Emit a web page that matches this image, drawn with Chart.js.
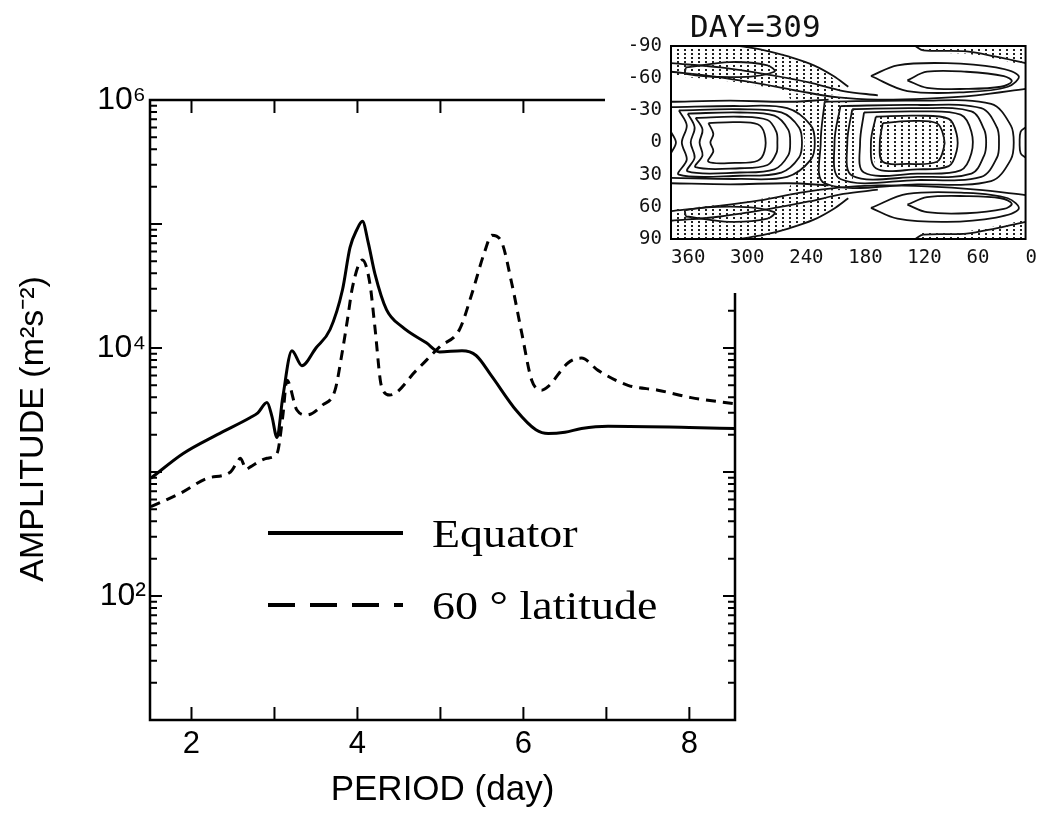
<!DOCTYPE html>
<html>
<head>
<meta charset="utf-8">
<script src="https://cdn.jsdelivr.net/npm/chart.js@4.4.0/dist/chart.umd.min.js"></script>
<style>
  body { margin: 0; background: #fff; }
  #wrap { position: relative; width: 1045px; height: 837px; }
  #main { position: absolute; left: 0; top: 0; }
  #inset { position: absolute; left: 605px; top: 0; background: #fff; }
</style>
</head>
<body>
<div id="wrap">
  <canvas id="main" width="1045" height="837"></canvas>
  <canvas id="inset" width="440" height="293"></canvas>
</div>
<script>
// main spectrum (period in days, amplitude in m2 s-2)
const equatorPeriod = [1.51, 1.90, 2.31, 2.71, 2.80, 2.91, 2.97, 3.03, 3.10, 3.21, 3.33, 3.50, 3.67, 3.82, 3.91, 3.99, 4.06, 4.13, 4.21, 4.35, 4.54, 4.83, 4.99, 5.26, 5.43, 5.62, 5.91, 6.15, 6.30, 6.50, 6.70, 7.02, 8.00, 8.55];
const equatorAmp = [890, 1410, 2000, 2750, 3000, 3630, 2800, 1900, 4000, 9500, 7200, 10000, 14100, 29500, 64500, 89000, 105000, 70800, 39800, 20400, 14800, 11000, 9300, 9500, 8700, 5900, 3160, 2190, 2040, 2090, 2240, 2340, 2290, 2240];

const latPeriod = [1.51, 1.87, 2.19, 2.47, 2.55, 2.59, 2.66, 2.71, 2.91, 3.03, 3.10, 3.15, 3.27, 3.39, 3.58, 3.73, 3.82, 3.88, 3.94, 4.06, 4.15, 4.21, 4.29, 4.39, 4.71, 4.99, 5.23, 5.38, 5.53, 5.62, 5.74, 5.86, 5.98, 6.10, 6.22, 6.30, 6.54, 6.70, 6.90, 7.26, 7.62, 8.02, 8.55];
const latAmp = [525, 676, 890, 1000, 1200, 1290, 1050, 1100, 1290, 1410, 2800, 5500, 3160, 2880, 3470, 4570, 9550, 17000, 30900, 51300, 33100, 14800, 4900, 4170, 6600, 10200, 14100, 27500, 58900, 81300, 70800, 33100, 13200, 5500, 4570, 4900, 7600, 8300, 6600, 5000, 4570, 3980, 3550];

const seriesNames = ['Equator', '60 ° latitude'];

// axis ticks
const xTickValues = [2, 3, 4, 5, 6, 7, 8];
const xLabelValues = [2, 4, 6, 8];
const yDecades = [10, 100, 1000, 10000, 100000, 1000000];
const yLabelValues = [100, 10000, 1000000];
const yLabelText = ['10²', '10⁴', '10⁶'];

// inset (DAY=309 map): longitude / latitude ticks
const lonTicks = [360, 300, 240, 180, 120, 60, 0];
const latTicks = [-90, -60, -30, 0, 30, 60, 90];

// contour lines of the inset, [lon, lat] pairs
const contourLines = [
  // left cell
  [[322,-18],[295,-19],[272,-17],[265,-8],[265,8],[272,17],[295,19],[322,18],[317,8],[320,0],[317,-8],[322,-18]],
  [[335,-23],[290,-24],[262,-21],[253,-10],[252,0],[253,10],[262,21],[290,24],[335,23],[328,12],[331,0],[328,-12],[335,-23]],
  [[343,-27],[290,-28],[255,-25],[241,-12],[239,0],[241,12],[255,25],[290,28],[343,27],[336,14],[340,0],[336,-14],[343,-27]],
  [[352,-30],[290,-31],[248,-28],[230,-14],[227,0],[230,14],[248,28],[290,31],[352,30],[344,16],[349,0],[344,-16],[352,-30]],
  [[360,-33],[290,-34],[242,-32],[218,-16],[214,0],[218,16],[242,32],[290,34],[360,33]],
  [[360,-10],[355,0],[360,10]],
  [[360,-38],[300,-39],[240,-38],[200,-40]],
  [[360,38],[300,39],[240,38],[200,40]],
  // right cell
  [[145,-18],[120,-20],[90,-18],[83,-5],[83,5],[90,18],[120,20],[145,18],[148,0],[145,-18]],
  [[152,-24],[110,-25],[78,-22],[70,-8],[70,8],[78,22],[110,25],[152,24],[157,0],[152,-24]],
  [[164,-28],[110,-29],[66,-26],[55,-10],[55,10],[66,26],[110,29],[164,28],[168,0],[164,-28]],
  [[176,-31],[110,-32],[55,-29],[42,-12],[40,0],[42,12],[55,29],[110,32],[176,31],[181,0],[176,-31]],
  [[188,-34],[110,-35],[45,-32],[29,-14],[27,0],[29,14],[45,32],[110,35],[188,34],[194,0],[188,-34]],
  [[204,-38],[110,-39],[35,-36],[15,-16],[12,0],[15,16],[35,36],[110,39],[204,38],[208,0],[204,-38]],
  [[0,-14],[5,-10],[6,0],[5,10],[0,14]],
  // high latitudes, north (top)
  [[360,-66],[320,-62],[270,-55],[230,-48],[190,-42],[150,-40],[100,-41],[50,-44],[0,-50]],
  [[360,-74],[310,-70],[260,-63],[220,-56],[185,-48],[150,-44]],
  [[345,-70],[300,-75],[262,-72],[255,-66],[290,-61],[345,-64],[345,-70]],
  [[290,-90],[265,-86],[240,-80],[215,-72],[195,-62],[180,-52]],
  [[112,-90],[104,-86],[60,-85],[30,-80],[0,-74]],
  [[120,-58],[100,-66],[60,-66],[22,-62],[14,-57],[25,-52],[60,-50],[100,-51],[120,-58]],
  [[157,-62],[130,-72],[80,-74],[30,-70],[7,-62],[18,-52],[60,-47],[120,-48],[157,-62]],
  // high latitudes, south (bottom)
  [[360,64],[320,60],[270,54],[230,47],[190,42],[150,40],[100,41],[50,44],[0,49]],
  [[360,73],[310,69],[260,62],[220,55],[185,48],[150,44]],
  [[345,69],[300,74],[262,71],[255,65],[290,60],[345,63],[345,69]],
  [[290,90],[265,86],[240,80],[215,72],[195,62],[180,52]],
  [[112,90],[104,86],[60,85],[30,80],[0,74]],
  [[120,58],[100,65],[60,66],[22,62],[14,57],[25,52],[60,50],[100,51],[120,58]],
  [[157,61],[130,71],[80,74],[30,70],[7,62],[18,52],[60,47],[120,48],[157,61]]
];

// stippled areas of the inset
const stippleAreas = [
  [[360,-90],[268,-90],[245,-82],[220,-74],[198,-62],[185,-50],[205,-44],[240,-48],[290,-56],[330,-60],[360,-62]],
  [[360,90],[268,90],[245,82],[220,74],[198,62],[185,50],[205,44],[240,48],[290,56],[330,60],[360,62]],
  [[112,-90],[0,-90],[0,-72],[30,-78],[60,-83],[104,-84]],
  [[112,90],[0,90],[0,72],[30,78],[60,83],[104,84]],
  [[242,-46],[178,-44],[172,-20],[170,0],[172,20],[178,44],[242,46],[228,20],[224,0],[228,-20]],
  [[152,-24],[110,-25],[78,-22],[70,-8],[70,8],[78,22],[110,25],[152,24],[157,0]]
];

const sansFont = '"Liberation Sans", Arial, Helvetica, sans-serif';
const serifFont = '"Liberation Serif", "Times New Roman", serif';
const monoFont = '"DejaVu Sans Mono", monospace';

function toPoints(xs, ys) {
    return xs.map((x, i) => ({ x: x, y: ys[i] }));
}

// box plus inward tick marks on all four sides
const frameTicks = {
    id: 'frameTicks',
    afterDatasetsDraw(chart) {
        const { ctx, chartArea: a } = chart;
        const x = chart.scales.x;
        const y = chart.scales.y;
        ctx.save();
        ctx.strokeStyle = '#000';
        ctx.lineWidth = 2.5;
        ctx.strokeRect(a.left, a.top, a.right - a.left, a.bottom - a.top);
        ctx.lineWidth = 2;
        ctx.beginPath();
        x.ticks.forEach(t => {
            const px = x.getPixelForValue(t.value);
            ctx.moveTo(px, a.bottom);
            ctx.lineTo(px, a.bottom - 13);
            ctx.moveTo(px, a.top);
            ctx.lineTo(px, a.top + 13);
        });
        y.ticks.forEach(t => {
            const py = y.getPixelForValue(t.value);
            const len = t.major ? 12 : 7;
            ctx.moveTo(a.left, py);
            ctx.lineTo(a.left + len, py);
            ctx.moveTo(a.right, py);
            ctx.lineTo(a.right - len, py);
        });
        ctx.stroke();
        ctx.restore();
    }
};

// key inside the plot (the original lettering is a little wider than Times)
const lineKey = {
    id: 'lineKey',
    afterDatasetsDraw(chart) {
        const ctx = chart.ctx;
        const rows = [533, 605];
        chart.data.datasets.forEach((ds, i) => {
            const yy = rows[i];
            ctx.save();
            ctx.strokeStyle = '#000';
            ctx.lineWidth = 4;
            ctx.setLineDash(i ? [27, 15] : []);
            ctx.beginPath();
            ctx.moveTo(268, yy);
            ctx.lineTo(403, yy);
            ctx.stroke();
            ctx.setLineDash([]);
            ctx.fillStyle = '#000';
            ctx.font = '39px ' + serifFont;
            ctx.textBaseline = 'alphabetic';
            ctx.translate(432, yy + 14);
            ctx.scale(1.18, 1);
            ctx.fillText(ds.label, 0, 0);
            ctx.restore();
        });
    }
};

new Chart(document.getElementById('main'), {
    type: 'line',
    data: {
        datasets: [{
            label: seriesNames[0],
            data: toPoints(equatorPeriod, equatorAmp),
            borderColor: '#000',
            borderWidth: 3,
            pointRadius: 0,
            cubicInterpolationMode: 'monotone',
            fill: false
        }, {
            label: seriesNames[1],
            data: toPoints(latPeriod, latAmp),
            borderColor: '#000',
            borderWidth: 3,
            borderDash: [10, 7],
            pointRadius: 0,
            cubicInterpolationMode: 'monotone',
            fill: false
        }]
    },
    options: {
        responsive: false,
        animation: false,
        layout: { padding: { left: 0, top: 100, right: 310, bottom: 0 } },
        plugins: {
            legend: { display: false },
            tooltip: { enabled: false }
        },
        scales: {
            x: {
                type: 'linear',
                min: 1.5,
                max: 8.55,
                afterFit: s => { s.height = 117; },
                afterBuildTicks: s => { s.ticks = xTickValues.map(v => ({ value: v })); },
                grid: { display: false, drawTicks: false },
                border: { display: false },
                ticks: {
                    autoSkip: false,
                    maxRotation: 0,
                    padding: 6,
                    color: '#000',
                    font: { family: sansFont, size: 31 },
                    callback: v => xLabelValues.includes(v) ? String(v) : ''
                },
                title: {
                    display: true,
                    text: 'PERIOD (day)',
                    color: '#000',
                    font: { family: sansFont, size: 35 },
                    padding: { top: 0, bottom: 26 }
                }
            },
            y: {
                type: 'logarithmic',
                min: 10,
                max: 1000000,
                afterFit: s => { s.width = 150; },
                afterBuildTicks: s => {
                    const t = [];
                    yDecades.forEach(d => {
                        t.push({ value: d, major: true });
                        if (d < 1000000) {
                            for (let m = 2; m < 10; m++) t.push({ value: d * m, major: false });
                        }
                    });
                    s.ticks = t;
                },
                grid: { display: false, drawTicks: false },
                border: { display: false },
                ticks: {
                    autoSkip: false,
                    padding: 4,
                    color: '#000',
                    font: { family: sansFont, size: 32 },
                    callback: v => {
                        const k = yLabelValues.indexOf(v);
                        return k >= 0 ? yLabelText[k] : '';
                    }
                },
                title: {
                    display: true,
                    // trailing spaces nudge the rotated title down, as in the original
                    text: 'AMPLITUDE (m²s⁻²)    ',
                    color: '#000',
                    font: { family: sansFont, size: 34 },
                    padding: { top: 13, bottom: 0 }
                }
            }
        }
    },
    plugins: [frameTicks, lineKey]
});

// ---- inset map ----
const insetCanvas = document.getElementById('inset');
const dotTile = document.createElement('canvas');
dotTile.width = 7;
dotTile.height = 4;
const dtx = dotTile.getContext('2d');
dtx.fillStyle = '#222';
dtx.fillRect(2, 1, 2, 2);
const stipple = insetCanvas.getContext('2d').createPattern(dotTile, 'repeat');

const insetFrame = {
    id: 'insetFrame',
    afterDatasetsDraw(chart) {
        const { ctx, chartArea: a } = chart;
        ctx.save();
        ctx.strokeStyle = '#000';
        ctx.lineWidth = 2;
        ctx.strokeRect(a.left, a.top, a.right - a.left, a.bottom - a.top);
        ctx.fillStyle = '#111';
        ctx.font = '31px ' + monoFont;
        ctx.textBaseline = 'alphabetic';
        ctx.fillText('DAY=309', 85, 37);
        ctx.restore();
    }
};

const insetSets = [];
stippleAreas.forEach(area => {
    insetSets.push({
        data: area.map(p => ({ x: p[0], y: p[1] })),
        showLine: true,
        borderColor: 'rgba(0,0,0,0)',
        borderWidth: 1,
        backgroundColor: stipple,
        fill: 'shape',
        pointRadius: 0,
        tension: 0
    });
});
contourLines.forEach(line => {
    insetSets.push({
        data: line.map(p => ({ x: p[0], y: p[1] })),
        showLine: true,
        borderColor: '#111',
        borderWidth: 1.8,
        fill: false,
        pointRadius: 0,
        tension: 0.35
    });
});

new Chart(insetCanvas, {
    type: 'scatter',
    data: { datasets: insetSets },
    options: {
        responsive: false,
        animation: false,
        layout: { padding: { left: 0, top: 46, right: 8, bottom: 0 } },
        plugins: {
            legend: { display: false },
            tooltip: { enabled: false }
        },
        scales: {
            x: {
                type: 'linear',
                min: 0,
                max: 360,
                reverse: true,
                afterFit: s => { s.height = 54; },
                afterBuildTicks: s => { s.ticks = lonTicks.map(v => ({ value: v })); },
                grid: { display: false, drawTicks: false },
                border: { display: false },
                ticks: {
                    autoSkip: false,
                    maxRotation: 0,
                    align: 'start',
                    padding: 8,
                    color: '#111',
                    font: { family: monoFont, size: 19 }
                }
            },
            y: {
                type: 'linear',
                min: -90,
                max: 90,
                reverse: true,
                afterFit: s => { s.width = 66; },
                afterBuildTicks: s => { s.ticks = latTicks.map(v => ({ value: v })); },
                grid: { display: false, drawTicks: false },
                border: { display: false },
                ticks: {
                    autoSkip: false,
                    padding: 9,
                    color: '#111',
                    font: { family: monoFont, size: 19 }
                }
            }
        }
    },
    plugins: [insetFrame]
});
</script>
</body>
</html>
